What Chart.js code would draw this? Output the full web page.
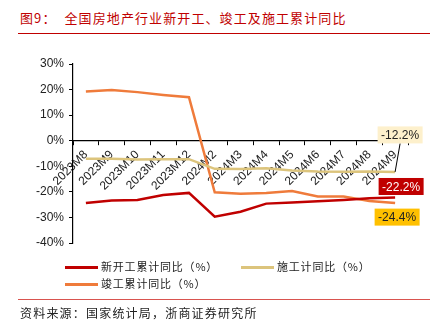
<!DOCTYPE html>
<html lang="zh">
<head>
<meta charset="utf-8">
<title>全国房地产行业新开工、竣工及施工累计同比</title>
<script src="https://cdn.jsdelivr.net/npm/chart.js@4.4.1/dist/chart.umd.min.js"></script>
<style>
    * { box-sizing: border-box; }
    body { margin: 0; width: 445px; height: 333px; background: #fff; position: relative; overflow: hidden;
           font-family: "Noto Sans CJK SC", "Liberation Sans", sans-serif; }
    #chartBox { position: absolute; left: 0; top: 0; width: 445px; height: 333px; }
    .title { position: absolute; left: 20px; top: 8px; font-size: 13px; color: #c00000; letter-spacing: 1.1px; white-space: nowrap; }
    .title span { margin-left: 8px; }
    .rule { position: absolute; left: 18px; width: 412px; height: 1px; background: #c00000; }
    .legend-item { position: absolute; font-size: 11px; color: #222; white-space: nowrap; line-height: 14px; letter-spacing: 0.8px; }
    .legend-item i { display: inline-block; width: 33px; height: 3px; vertical-align: middle; margin-right: 3px; position: relative; top: -1px; }
    .source { position: absolute; left: 20px; top: 304px; font-size: 12px; color: #222; white-space: nowrap; letter-spacing: 1.2px; }
</style>
</head>
<body>

<div class="title">图9：<span>全国房地产行业新开工、竣工及施工累计同比</span></div>
<div class="rule" style="top:33px"></div>

<div id="chartBox"><canvas id="myChart"></canvas></div>

<div id="legend"></div>
<div class="rule" style="top:299px; background:#d9534f"></div>
<div class="source">资料来源：国家统计局，浙商证券研究所</div>

<script>
    var months = ['2023M8', '2023M9', '2023M10', '2023M11', '2023M12', '2024M2', '2024M3',
                  '2024M4', '2024M5', '2024M6', '2024M7', '2024M8', '2024M9'];
    // 新开工累计同比
    var newStarts = [-24.4, -23.4, -23.2, -21.2, -20.4, -29.7, -27.8, -24.6, -24.2, -23.7, -23.2, -22.5, -22.2];
    // 施工累计同比
    var underConstruction = [-7.1, -7.1, -7.3, -7.2, -7.2, -11.0, -11.1, -10.8, -11.6, -12.0, -12.1, -12.0, -12.2];
    // 竣工累计同比
    var completions = [19.2, 19.8, 19.0, 17.9, 17.0, -20.2, -20.7, -20.4, -19.7, -21.8, -21.8, -23.6, -24.4];
    var yTicks = [30, 20, 10, 0, -10, -20, -30, -40];

    var seriesNames = ['新开工累计同比（%）', '施工计同比（%）', '竣工累计同比（%）'];
    var seriesColors = ['#c00000', '#dcc47c', '#ef7b3b'];

    // end-of-line value boxes
    var endBoxes = [
        { data: underConstruction, bg: '#fdf0cc', fg: '#222', dx: 5, dy: -37, leader: true },
        { data: newStarts, bg: '#c00000', fg: '#fff', dx: 6, dy: -11, leader: false },
        { data: completions, bg: '#ffc000', fg: '#222', dx: 2, dy: 14, leader: false }
    ];

    var endLabelPlugin = {
        id: 'endLabels',
        afterDatasetsDraw: function (chart) {
            var ctx = chart.ctx;
            var xs = chart.scales.x, ys = chart.scales.y;
            var last = months.length - 1;
            ctx.save();
            ctx.font = '12px "Liberation Sans", Arial, sans-serif';
            ctx.textAlign = 'center';
            ctx.textBaseline = 'middle';
            endBoxes.forEach(function (b) {
                var v = b.data[last];
                var px = xs.getPixelForValue(last);
                var py = ys.getPixelForValue(v);
                var cx = px + b.dx, cy = py + b.dy;
                var w = 45, h = 17;
                if (b.leader) {
                    ctx.strokeStyle = '#000';
                    ctx.lineWidth = 1;
                    ctx.beginPath();
                    ctx.moveTo(px, py);
                    ctx.lineTo(cx, cy + h / 2);
                    ctx.stroke();
                }
                ctx.fillStyle = b.bg;
                ctx.fillRect(cx - w / 2, cy - h / 2, w, h);
                ctx.fillStyle = b.fg;
                ctx.fillText(v.toFixed(1) + '%', cx, cy + 1);
            });
            ctx.restore();
        }
    };

    var lineData = [newStarts, underConstruction, completions];
    var datasets = [];
    for (var i = 0; i < lineData.length; i++) {
        datasets.push({
            label: seriesNames[i],
            data: lineData[i],
            borderColor: seriesColors[i],
            backgroundColor: seriesColors[i],
            borderWidth: 2.5,
            pointRadius: 0,
            tension: 0,
            fill: false,
            order: i + 1
        });
    }

    var ctx = document.getElementById('myChart').getContext('2d');
    var myChart = new Chart(ctx, {
        type: 'line',
        data: { labels: months, datasets: datasets },
        plugins: [endLabelPlugin],
        options: {
            responsive: true,
            maintainAspectRatio: false,
            animation: false,
            layout: { padding: { left: 0, top: 64, right: 37, bottom: 90 } },
            plugins: { legend: { display: false }, tooltip: { enabled: false } },
            scales: {
                x: {
                    position: { y: 0 },
                    offset: true,
                    afterFit: function (scale) { scale.height = 0; },
                    grid: { display: true, drawOnChartArea: false, offset: true, tickLength: 4, color: '#000', tickWidth: 1 },
                    border: { color: '#000', width: 1.2 },
                    ticks: {
                        autoSkip: false, minRotation: 45, maxRotation: 45, padding: 3,
                        color: '#222', font: { family: '"Liberation Sans", Arial, sans-serif', size: 12 }
                    }
                },
                y: {
                    min: -40, max: 30,
                    afterFit: function (scale) { scale.width = 73; },
                    afterBuildTicks: function (scale) {
                        scale.ticks = yTicks.map(function (v) { return { value: v }; });
                    },
                    grid: { display: true, drawOnChartArea: false, tickLength: 4, color: '#000' },
                    border: { color: '#000', width: 1.2 },
                    ticks: {
                        padding: 5,
                        color: '#222', font: { family: '"Liberation Sans", Arial, sans-serif', size: 12 },
                        callback: function (v) { return v + '%'; }
                    }
                }
            }
        }
    });

    // legend in two rows like the original
    var legendPos = [[65, 259], [241, 259], [65, 276]];
    var legendHtml = '';
    for (var j = 0; j < seriesNames.length; j++) {
        legendHtml += '<div class="legend-item" style="left:' + legendPos[j][0] + 'px; top:' + legendPos[j][1] + 'px">' +
            '<i style="background:' + seriesColors[j] + '"></i>' + seriesNames[j] + '</div>';
    }
    document.getElementById('legend').innerHTML = legendHtml;
</script>

</body>
</html>
